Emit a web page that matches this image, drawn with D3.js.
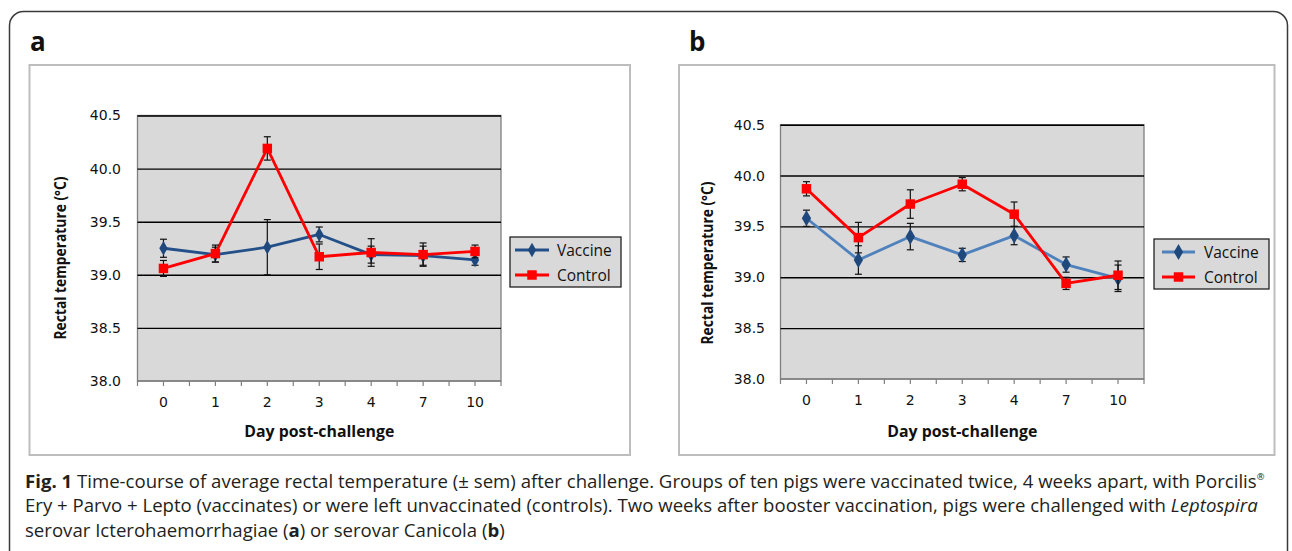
<!DOCTYPE html>
<html>
<head>
<meta charset="utf-8">
<script src="https://cdn.jsdelivr.net/npm/d3@7"></script>
<style>
  html, body { margin: 0; padding: 0; background: #fff; }
  svg { display: block; font-family: "Open Sans", "Noto Sans", sans-serif; }
</style>
</head>
<body>
<svg id="chart" width="1292" height="551"></svg>
<script>
// days post-challenge (categories on the x axis)
const categories = ['0', '1', '2', '3', '4', '7', '10'];
const yTicks = [38.0, 38.5, 39.0, 39.5, 40.0, 40.5];
const seriesNames = ['Vaccine', 'Control'];

// panel a: serovar Icterohaemorrhagiae
const vaccineA = [39.25, 39.19, 39.26, 39.38, 39.19, 39.18, 39.14];
const vaccineAErr = [0.085, 0.07, 0.26, 0.07, 0.08, 0.09, 0.05];
const controlA = [39.06, 39.20, 40.19, 39.17, 39.21, 39.19, 39.22];
const controlAErr = [0.075, 0.08, 0.11, 0.12, 0.13, 0.11, 0.06];

// panel b: serovar Canicola
const vaccineB = [39.58, 39.17, 39.40, 39.22, 39.41, 39.125, 38.99];
const vaccineBErr = [0.08, 0.14, 0.13, 0.065, 0.09, 0.075, 0.13];
const controlB = [39.87, 39.39, 39.72, 39.915, 39.62, 38.94, 39.02];
const controlBErr = [0.07, 0.15, 0.14, 0.065, 0.12, 0.06, 0.14];

const svg = d3.select('#chart');
const tickFont = '"DejaVu Sans", Verdana, sans-serif';

// outer rounded border of the figure
svg.append('rect')
  .attr('x', 9.5).attr('y', 11.5)
  .attr('width', 1278).attr('height', 620)
  .attr('rx', 14)
  .attr('fill', 'none')
  .attr('stroke', '#3a3a3a')
  .attr('stroke-width', 1.5);

const drawPanel = (cfg) => {
  const g = svg.append('g');

  // panel letter
  g.append('text')
    .attr('x', cfg.label.x).attr('y', cfg.label.y)
    .attr('font-size', 26).attr('font-weight', 700)
    .attr('fill', '#111')
    .text(cfg.label.text);

  // chart frame
  g.append('rect')
    .attr('x', cfg.frame.x).attr('y', cfg.frame.y)
    .attr('width', cfg.frame.w).attr('height', cfg.frame.h)
    .attr('fill', '#fff')
    .attr('stroke', '#bdbdbd')
    .attr('stroke-width', 2);

  const { l, r, t, b } = cfg.plot;
  const x = d3.scaleBand().domain(categories).range([l, r]);
  const y = d3.scaleLinear().domain([38, 40.5]).range([b, t]);
  const cx = (d) => x(d) + x.bandwidth() / 2;

  // plot area
  g.append('rect')
    .attr('x', l).attr('y', t)
    .attr('width', r - l).attr('height', b - t)
    .attr('fill', '#d9d9d9')
    .attr('stroke', '#7f7f7f')
    .attr('stroke-width', 1.3);

  // gridlines
  g.append('g')
    .attr('transform', `translate(${l},0)`)
    .call(d3.axisLeft(y).tickValues(yTicks.slice(1)).tickSize(-(r - l)).tickFormat(''))
    .call((s) => s.select('.domain').remove())
    .call((s) => s.selectAll('line').attr('stroke', '#000').attr('stroke-width', 1.4));

  // y tick labels
  g.append('g')
    .attr('transform', `translate(${cfg.tickRight},0)`)
    .call(d3.axisLeft(y).tickValues(yTicks).tickSize(0).tickPadding(0).tickFormat(d3.format('.1f')))
    .call((s) => s.select('.domain').remove())
    .call((s) => s.selectAll('text')
      .attr('font-size', 14).attr('fill', '#111')
      .attr('font-family', tickFont));

  // x axis baseline + ticks every half category
  g.append('line')
    .attr('x1', l).attr('x2', r).attr('y1', b).attr('y2', b)
    .attr('stroke', '#7f7f7f').attr('stroke-width', 1.3);
  const tickXs = [];
  categories.forEach((c) => { tickXs.push(x(c), cx(c)); });
  tickXs.push(r);
  g.append('g').selectAll('line').data(tickXs).join('line')
    .attr('x1', (d) => d).attr('x2', (d) => d)
    .attr('y1', b).attr('y2', b + 5)
    .attr('stroke', '#7f7f7f').attr('stroke-width', 1.2);

  // x tick labels
  g.append('g')
    .attr('transform', `translate(0,${cfg.xLabelY})`)
    .call(d3.axisBottom(x).tickSize(0).tickPadding(0))
    .call((s) => s.select('.domain').remove())
    .call((s) => s.selectAll('text')
      .attr('dy', 0)
      .attr('font-size', 14).attr('fill', '#111')
      .attr('font-family', tickFont));

  // axis titles
  g.append('text')
    .attr('x', (l + r) / 2).attr('y', cfg.xTitleY)
    .attr('text-anchor', 'middle')
    .attr('font-size', 16).attr('font-weight', 700)
    .attr('textLength', 150).attr('lengthAdjust', 'spacingAndGlyphs')
    .attr('fill', '#111')
    .text('Day post-challenge');
  g.append('text')
    .attr('transform', `translate(${cfg.yTitle.x + 5.5},${cfg.yTitle.y}) rotate(-90)`)
    .attr('text-anchor', 'middle')
    .attr('font-size', 16).attr('font-weight', 700)
    .attr('textLength', 163).attr('lengthAdjust', 'spacingAndGlyphs')
    .attr('fill', '#111')
    .text('Rectal temperature (°C)');

  const series = [
    { values: cfg.vaccine, err: cfg.vaccineErr, line: cfg.vaccineLine, fill: '#1f497d', shape: d3.symbolDiamond, size: cfg.diamondSize },
    { values: cfg.control, err: cfg.controlErr, line: '#ff0000', fill: '#ff0000', shape: d3.symbolSquare, size: 90 },
  ];

  const lineGen = d3.line().x((d) => cx(d.cat)).y((d) => y(d.v));

  series.forEach((s) => {
    const pts = categories.map((cat, i) => ({ cat, v: s.values[i], e: s.err[i] }));

    g.append('path')
      .datum(pts)
      .attr('d', lineGen)
      .attr('fill', 'none')
      .attr('stroke', s.line)
      .attr('stroke-width', 2.8)
      .attr('stroke-linejoin', 'round');

    // error bars
    const eg = g.append('g').attr('stroke', '#111').attr('stroke-width', 1.2);
    eg.selectAll('.bar').data(pts).join('line')
      .attr('x1', (d) => cx(d.cat)).attr('x2', (d) => cx(d.cat))
      .attr('y1', (d) => y(d.v - d.e)).attr('y2', (d) => y(d.v + d.e));
    eg.selectAll('.capT').data(pts).join('line')
      .attr('x1', (d) => cx(d.cat) - 3.5).attr('x2', (d) => cx(d.cat) + 3.5)
      .attr('y1', (d) => y(d.v + d.e)).attr('y2', (d) => y(d.v + d.e));
    eg.selectAll('.capB').data(pts).join('line')
      .attr('x1', (d) => cx(d.cat) - 3.5).attr('x2', (d) => cx(d.cat) + 3.5)
      .attr('y1', (d) => y(d.v - d.e)).attr('y2', (d) => y(d.v - d.e));

    g.append('g').selectAll('path').data(pts).join('path')
      .attr('transform', (d) => `translate(${cx(d.cat)},${y(d.v)})`)
      .attr('d', d3.symbol().type(s.shape).size(s.size))
      .attr('fill', s.fill);
  });

  // legend
  const lg = cfg.legend;
  g.append('rect')
    .attr('x', lg.x).attr('y', lg.y)
    .attr('width', lg.w).attr('height', lg.h)
    .attr('fill', '#d9d9d9')
    .attr('stroke', '#222')
    .attr('stroke-width', 1.3);
  seriesNames.forEach((name, i) => {
    const s = series[i];
    const ry = lg.rows[i];
    g.append('line')
      .attr('x1', lg.lineX1).attr('x2', lg.lineX2)
      .attr('y1', ry).attr('y2', ry)
      .attr('stroke', s.line).attr('stroke-width', 2.8);
    g.append('path')
      .attr('transform', `translate(${(lg.lineX1 + lg.lineX2) / 2},${ry})`)
      .attr('d', d3.symbol().type(s.shape).size(s.size))
      .attr('fill', s.fill);
    g.append('text')
      .attr('x', lg.textX).attr('y', ry + 5.5)
      .attr('font-size', 15.5).attr('fill', '#111')
      .text(name);
  });
};

drawPanel({
  label: { text: 'a', x: 30, y: 51 },
  frame: { x: 29.5, y: 65, w: 600.5, h: 390 },
  plot: { l: 137.5, r: 501, t: 115.5, b: 381 },
  tickRight: 121,
  xLabelY: 407,
  xTitleY: 437,
  yTitle: { x: 60, y: 258 },
  legend: { x: 510, y: 237, w: 111, h: 50, rows: [250, 275], lineX1: 515, lineX2: 549, textX: 557 },
  vaccine: vaccineA, vaccineErr: vaccineAErr,
  control: controlA, controlErr: controlAErr,
  vaccineLine: '#24508a',
  diamondSize: 60,
});

drawPanel({
  label: { text: 'b', x: 689, y: 51 },
  frame: { x: 679, y: 65, w: 595.5, h: 390 },
  plot: { l: 780.5, r: 1144, t: 124.7, b: 379 },
  tickRight: 765,
  xLabelY: 405,
  xTitleY: 437,
  yTitle: { x: 707, y: 263 },
  legend: { x: 1154, y: 239, w: 115, h: 50, rows: [252, 277], lineX1: 1162, lineX2: 1195, textX: 1204 },
  vaccine: vaccineB, vaccineErr: vaccineBErr,
  control: controlB, controlErr: controlBErr,
  vaccineLine: '#4f81bd',
  diamondSize: 75,
});

// caption
const cap = svg.append('g')
  .attr('font-size', 18)
  .attr('fill', '#231f20');

const l1 = cap.append('text').attr('x', 25).attr('y', 488);
l1.append('tspan').attr('font-weight', 700).text('Fig. 1');
l1.append('tspan').text(' Time-course of average rectal temperature (± sem) after challenge. Groups of ten pigs were vaccinated twice, 4 weeks apart, with Porcilis');
l1.append('tspan').attr('font-size', 9).attr('dy', -8).text('®');

const l2 = cap.append('text').attr('x', 25).attr('y', 512.5);
l2.append('tspan').text('Ery + Parvo + Lepto (vaccinates) or were left unvaccinated (controls). Two weeks after booster vaccination, pigs were challenged with ');
l2.append('tspan').attr('font-style', 'italic').text('Leptospira');

const l3 = cap.append('text').attr('x', 25).attr('y', 537);
l3.append('tspan').text('serovar Icterohaemorrhagiae (');
l3.append('tspan').attr('font-weight', 700).text('a');
l3.append('tspan').text(') or serovar Canicola (');
l3.append('tspan').attr('font-weight', 700).text('b');
l3.append('tspan').text(')');

// squeeze caption lines horizontally to the reference widths
const k = 1240 / l1.node().getComputedTextLength();
[l1, l2, l3].forEach((t) => {
  t.attr('x', 25 / k);
});
cap.attr('transform', `scale(${k},1)`);
</script>
</body>
</html>
